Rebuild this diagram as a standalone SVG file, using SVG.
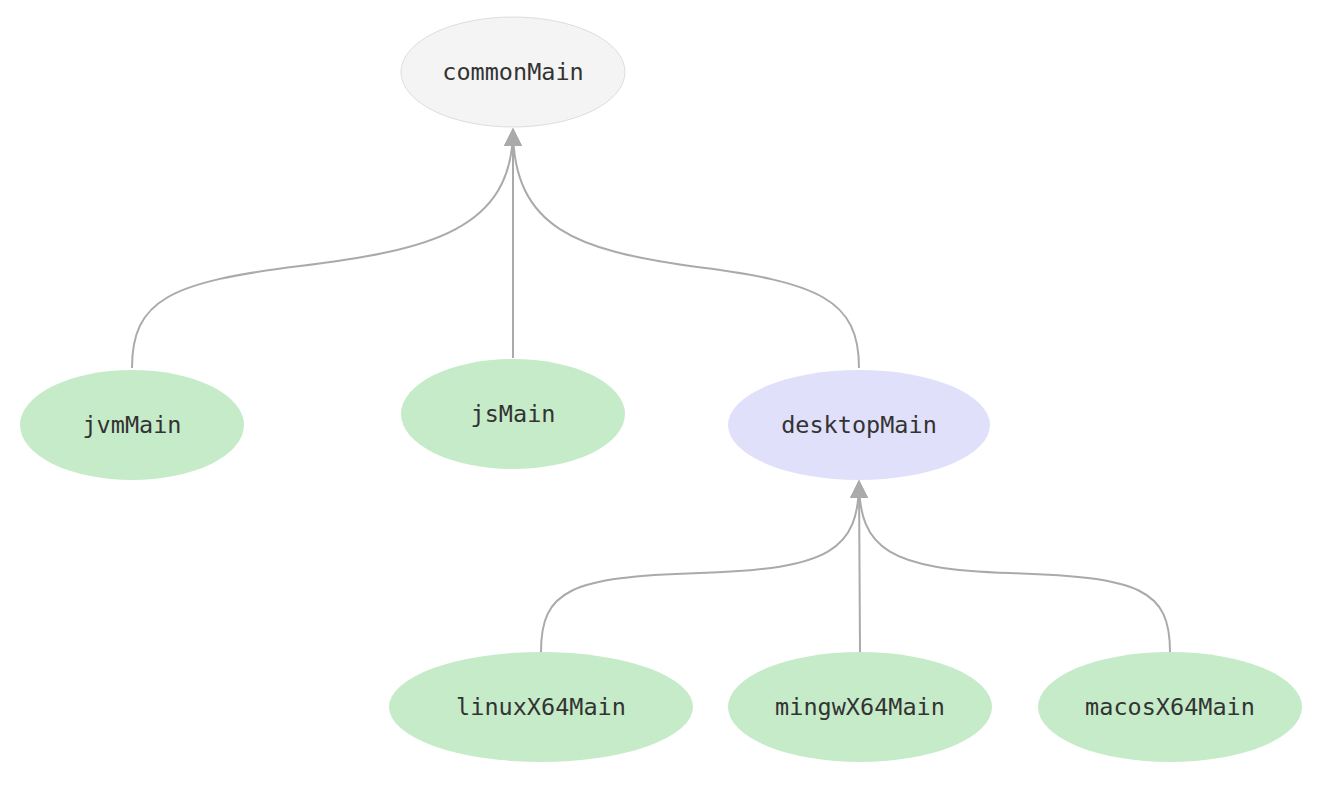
<svg xmlns="http://www.w3.org/2000/svg" width="1328" height="796" viewBox="0 0 1328 796">
<style>
.leaf{fill:#c6ebc9}
.lbl{font-family:"DejaVu Sans Mono","Liberation Mono",monospace;font-size:23.5px;fill:#333;text-anchor:middle;dominant-baseline:central}
.edge{fill:none;stroke:#aaa;stroke-width:2}
</style>
<defs>
<marker id="arrow" viewBox="0 0 18 18" refX="17" refY="9" markerWidth="18" markerHeight="18" markerUnits="userSpaceOnUse" orient="auto">
<path d="M0,0 L18,9 L0,18 z" fill="#aaa"/>
</marker>
</defs>
<rect width="1328" height="796" fill="#fff"/>
<g id="connectors">
<path class="edge" d="M132,368 C132,300 170,282 300,266 C430,250 513,230 513,129" marker-end="url(#arrow)"/>
<path class="edge" d="M513,358 L513,129" marker-end="url(#arrow)"/>
<path class="edge" d="M859,368 C859,300 820,282 690,266 C580,250 513,230 513,129" marker-end="url(#arrow)"/>
<path class="edge" d="M541,652 C541,590 570,577 700,573 C830,569 859,550 859,481" marker-end="url(#arrow)"/>
<path class="edge" d="M860,652 L859,481" marker-end="url(#arrow)"/>
<path class="edge" d="M1170,652 C1170,590 1141,577 1010,573 C890,569 859,550 859,481" marker-end="url(#arrow)"/>
</g>
<g id="commonMain"><ellipse cx="513" cy="72" rx="112" ry="55" fill="#f4f4f4" stroke="#ddd" stroke-width="1"/><text class="lbl" x="513" y="72">commonMain</text></g>
<g id="jvmMain"><ellipse class="leaf" cx="132" cy="425" rx="112" ry="55"/><text class="lbl" x="132" y="425">jvmMain</text></g>
<g id="jsMain"><ellipse class="leaf" cx="513" cy="414" rx="112" ry="55"/><text class="lbl" x="513" y="414">jsMain</text></g>
<g id="desktopMain"><ellipse cx="859" cy="425" rx="131" ry="55" fill="#e0e0fb"/><text class="lbl" x="859" y="425">desktopMain</text></g>
<g id="linuxX64Main"><ellipse class="leaf" cx="541" cy="707" rx="152" ry="55"/><text class="lbl" x="541" y="707">linuxX64Main</text></g>
<g id="mingwX64Main"><ellipse class="leaf" cx="860" cy="707" rx="132" ry="55"/><text class="lbl" x="860" y="707">mingwX64Main</text></g>
<g id="macosX64Main"><ellipse class="leaf" cx="1170" cy="707" rx="132" ry="55"/><text class="lbl" x="1170" y="707">macosX64Main</text></g>
</svg>
